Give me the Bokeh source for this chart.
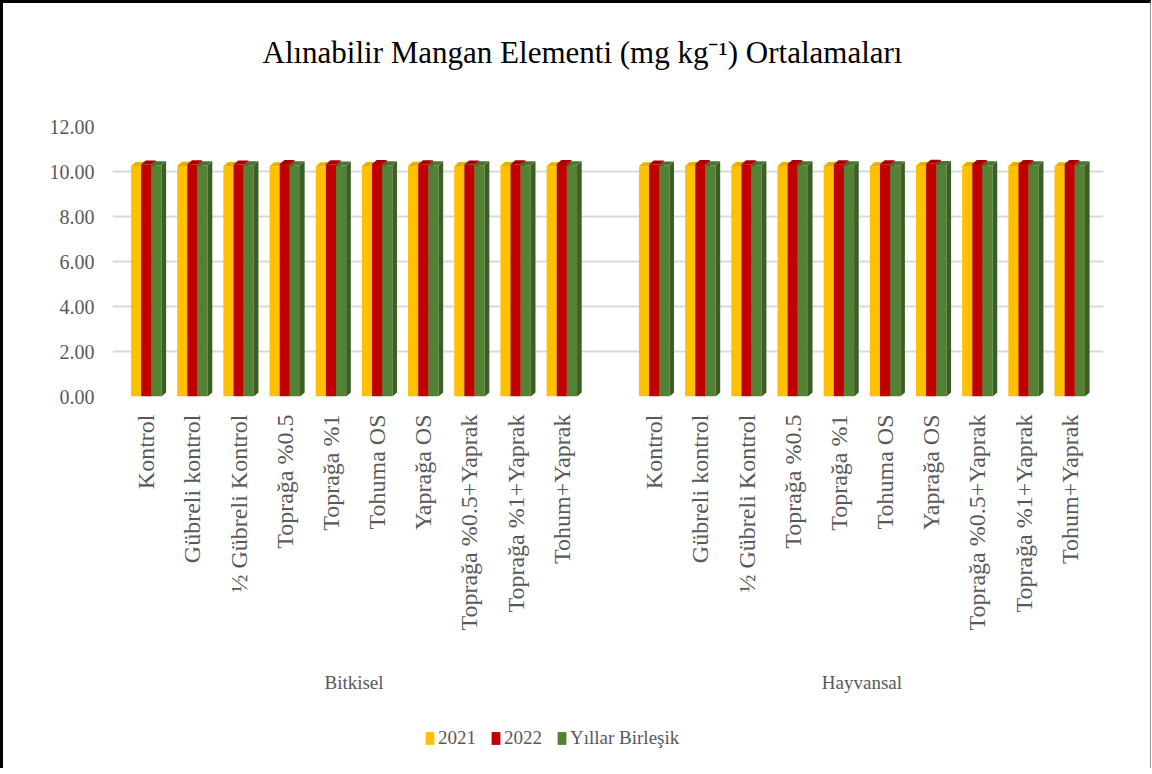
import math
from bokeh.plotting import figure
from bokeh.layouts import column
from bokeh.models import (FactorRange, Range1d, FixedTicker, NumeralTickFormatter,
                          Legend, LegendItem, ColumnDataSource, CategoricalAxis)
from bokeh.embed import file_html
from bokeh.resources import INLINE

title_text = "Alınabilir Mangan Elementi (mg kg⁻¹) Ortalamaları"
groups = ["Bitkisel", "Hayvansal"]
treatments = ["Kontrol", "Gübreli kontrol", "½ Gübreli Kontrol", "Toprağa %0.5",
              "Toprağa %1", "Tohuma OS", "Yaprağa OS", "Toprağa %0.5+Yaprak",
              "Toprağa %1+Yaprak", "Tohum+Yaprak"]
series_names = ["2021", "2022", "Yıllar Birleşik"]

bitkisel_2021 = [10.24, 10.25, 10.24, 10.23, 10.23, 10.24, 10.25, 10.24, 10.24, 10.23]
bitkisel_2022 = [10.31, 10.32, 10.31, 10.33, 10.32, 10.33, 10.32, 10.31, 10.32, 10.33]
bitkisel_birlesik = [10.28, 10.28, 10.28, 10.28, 10.27, 10.28, 10.28, 10.28, 10.28, 10.28]
hayvansal_2021 = [10.23, 10.24, 10.24, 10.24, 10.24, 10.23, 10.24, 10.24, 10.24, 10.23]
hayvansal_2022 = [10.31, 10.33, 10.32, 10.33, 10.32, 10.32, 10.34, 10.33, 10.33, 10.33]
hayvansal_birlesik = [10.27, 10.28, 10.28, 10.28, 10.28, 10.28, 10.29, 10.28, 10.28, 10.28]

y_ticks = [0, 2, 4, 6, 8, 10, 12]

front_colors = ["#FFC000", "#C00000", "#548235"]
side_colors = ["#D9A300", "#8E0000", "#3B5E25"]
top_colors = ["#E8AE00", "#A80000", "#4A7530"]

factors = [(g, t) for g in groups for t in treatments]
series_values = [
    bitkisel_2021 + hayvansal_2021,
    bitkisel_2022 + hayvansal_2022,
    bitkisel_birlesik + hayvansal_birlesik,
]

FONT = "Liberation Serif"
GRAY = "#595959"

xr = FactorRange(factors=factors, group_padding=1.0, factor_padding=0.0,
                 range_padding=0.022, range_padding_units="percent")

# title strip on top
pt = figure(width=1147, height=97, output_backend="svg", toolbar_location=None,
            x_range=xr, y_range=Range1d(-2, -1),
            min_border_left=109, min_border_right=47, min_border_top=0,
            min_border_bottom=0)
pt.axis.visible = False
pt.grid.grid_line_color = None
pt.outline_line_color = None
pt.title.text = title_text
pt.title.align = "left"
pt.title.text_font = FONT
pt.title.text_font_size = "31px"
pt.title.text_font_style = "normal"
pt.title.text_color = "black"
pt.title.standoff = 58
pt.title.offset = 150

p = figure(width=1147, height=618, output_backend="svg", toolbar_location=None,
           x_range=xr, y_range=Range1d(0, 12),
           min_border_left=109, min_border_right=47, min_border_top=26,
           min_border_bottom=322)

p.outline_line_color = None
p.xgrid.grid_line_color = None
p.ygrid.grid_line_color = "#D9D9D9"
p.ygrid.grid_line_width = 2

p.yaxis.ticker = FixedTicker(ticks=y_ticks)
p.yaxis.formatter = NumeralTickFormatter(format="0.00")
p.yaxis.axis_line_color = None
p.yaxis.major_tick_line_color = None
p.yaxis.minor_tick_line_color = None
p.yaxis.major_label_text_font = FONT
p.yaxis.major_label_text_font_size = "20px"
p.yaxis.major_label_text_color = GRAY
p.yaxis.major_label_standoff = 12

p.xaxis.axis_line_color = None
p.xaxis.major_tick_line_color = None
p.xaxis.minor_tick_line_color = None
p.xaxis.separator_line_color = None
p.xaxis.major_label_orientation = math.pi / 2
p.xaxis.major_label_text_font = FONT
p.xaxis.major_label_text_font_size = "24px"
p.xaxis.major_label_text_color = GRAY
p.xaxis.major_label_standoff = 12
p.xaxis.group_text_font_size = "1px"
p.xaxis.group_text_color = None

# second axis showing only the group names, lower down
ax2 = CategoricalAxis(axis_line_color=None, major_tick_line_color=None,
                      minor_tick_line_color=None, separator_line_color=None,
                      major_label_text_font_size="1px", major_label_text_color=None,
                      major_label_standoff=32,
                      group_text_font=FONT, group_text_font_size="19px",
                      group_text_color=GRAY, group_text_font_style="normal")
p.add_layout(ax2, "below")

offsets = [-0.22, 0.0, 0.22]
w = 0.22
dx = 0.10
dy = 0.18

# legend-only strip below the chart (its y range shows none of the bars)
pl = figure(width=1147, height=50, output_backend="svg", toolbar_location=None,
            x_range=xr, y_range=Range1d(-2, -1), min_border=0)
pl.axis.visible = False
pl.grid.grid_line_color = None
pl.outline_line_color = None

items = []
for i, name in enumerate(series_names):
    o = offsets[i]
    fx, fy, sx, sy, tx, ty = [], [], [], [], [], []
    for (g, t), v in zip(factors, series_values[i]):
        l, r = o - w / 2, o + w / 2
        fx.append([(g, t, l), (g, t, r), (g, t, r), (g, t, l)])
        fy.append([0, 0, v, v])
        sx.append([(g, t, r), (g, t, r + dx), (g, t, r + dx), (g, t, r)])
        sy.append([0, dy, v + dy, v])
        tx.append([(g, t, l), (g, t, r), (g, t, r + dx), (g, t, l + dx)])
        ty.append([v, v, v + dy, v + dy])
    front_src = ColumnDataSource(dict(xs=fx, ys=fy))
    p.patches(xs="xs", ys="ys", source=front_src,
              fill_color=front_colors[i], line_color=None)
    p.patches(xs="xs", ys="ys", source=ColumnDataSource(dict(xs=sx, ys=sy)),
              fill_color=side_colors[i], line_color=None)
    p.patches(xs="xs", ys="ys", source=ColumnDataSource(dict(xs=tx, ys=ty)),
              fill_color=top_colors[i], line_color=None)
    lr = pl.patches(xs="xs", ys="ys", source=front_src,
                    fill_color=front_colors[i], line_color=None)
    items.append(LegendItem(label=name, renderers=[lr]))

legend = Legend(items=items, orientation="horizontal", location=(312, 19),
                label_text_font=FONT, label_text_font_size="19px",
                label_text_color=GRAY, glyph_width=11, glyph_height=16,
                spacing=14, label_standoff=3, border_line_color=None,
                background_fill_alpha=0, padding=5, margin=0)
pl.add_layout(legend, "center")

layout = column(pt, p, pl, spacing=0,
                styles={"border-top": "3px solid black", "border-left": "3px solid black",
                        "border-right": "1px solid #999999"})

open("out.html", "w").write(file_html(layout, INLINE))
